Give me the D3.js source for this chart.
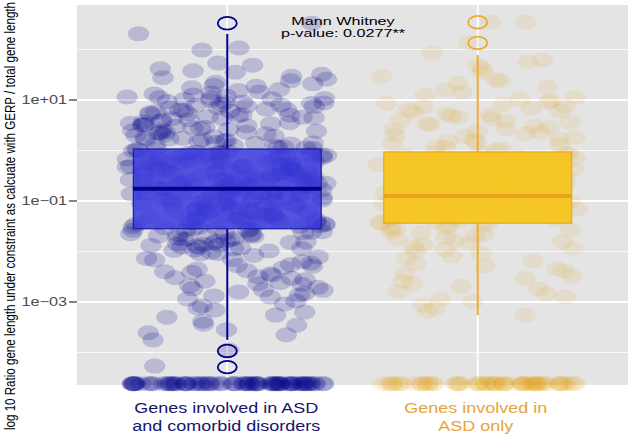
<!DOCTYPE html>
<html><head><meta charset="utf-8">
<script src="https://cdn.jsdelivr.net/npm/d3@7"></script>
<style>body{margin:0;background:#fff}svg{display:block}</style>
</head><body><svg id="c" width="631" height="439"></svg>
<script>
// ---------- DATA ----------
const categories = ["comorbid", "asdOnly"];
const categoryLines = [["Genes involved in ASD", "and comorbid disorders"], ["Genes involved in", "ASD only"]];
const yTickValues = [1e1, 1e-1, 1e-3];
const yTickLabels = ["1e+01", "1e\u221201", "1e\u221203"];
const yMinorValues = [1e2, 1e0, 1e-2, 1e-4];
const annotationLines = ["Mann Whitney", "p-value: 0.0277**"];

// log10 ratio values read from the jittered points
const comorbidLog = [
  2.52,2.31,2.03,1.99,
  1.73,1.69,1.62,1.58,1.55,1.51,1.47,1.44,1.41,1.38,1.35,1.32,1.29,1.27,1.24,1.21,1.19,1.16,1.14,1.12,1.10,1.08,1.06,1.05,1.04,1.03,1.02,1.01,
  0.99,0.97,0.96,0.94,0.93,0.91,0.90,0.88,0.87,0.85,0.84,0.82,0.81,0.79,0.78,0.76,0.75,0.73,0.72,0.70,0.69,0.67,0.66,0.64,0.63,0.61,0.60,0.58,0.57,0.55,0.54,0.52,0.51,0.49,0.48,0.46,0.45,0.43,0.42,0.40,0.39,0.37,0.36,0.34,0.33,0.31,0.30,0.28,0.27,0.25,0.24,0.22,0.21,0.19,0.18,0.16,0.15,0.13,0.12,0.10,0.09,0.07,0.06,0.04,0.03,0.01,0.95,0.80,0.65,0.50,0.35,0.20,0.05,0.89,0.71,0.53,0.38,0.23,0.14,0.02,
  -0.01,-0.02,-0.04,-0.05,-0.07,-0.08,-0.10,-0.11,-0.13,-0.14,-0.16,-0.17,-0.19,-0.20,-0.22,-0.23,-0.25,-0.26,-0.28,-0.29,-0.31,-0.32,-0.34,-0.35,-0.37,-0.38,-0.40,-0.41,-0.43,-0.44,-0.46,-0.47,-0.49,-0.50,-0.52,-0.53,-0.55,-0.56,-0.58,-0.59,-0.61,-0.62,-0.64,-0.65,-0.67,-0.68,-0.70,-0.71,-0.73,-0.74,-0.76,-0.77,-0.79,-0.80,-0.82,-0.83,-0.85,-0.86,-0.88,-0.89,-0.91,-0.92,-0.94,-0.95,-0.97,-0.98,
  -0.03,-0.09,-0.15,-0.21,-0.27,-0.33,-0.39,-0.45,-0.51,-0.57,-0.63,-0.69,-0.75,-0.81,-0.87,-0.93,-0.99,
  -0.06,-0.12,-0.18,-0.24,-0.30,-0.36,-0.42,-0.48,-0.54,-0.60,-0.66,-0.72,-0.78,-0.84,-0.90,-0.96,
  -0.35,-0.55,-0.75,-0.45,-0.65,-0.25,-0.85,-0.15,-0.50,-0.70,-0.60,
  -1.01,-1.02,-1.04,-1.05,-1.07,-1.08,-1.10,-1.11,-1.13,-1.14,-1.16,-1.17,-1.19,-1.20,-1.22,-1.23,-1.25,-1.26,-1.28,-1.29,-1.31,-1.32,-1.34,-1.35,-1.37,-1.38,-1.40,-1.41,-1.43,-1.44,-1.46,-1.47,-1.49,-1.50,-1.52,-1.53,-1.55,-1.56,-1.58,-1.59,-1.61,-1.62,-1.64,-1.65,-1.67,-1.68,-1.70,-1.71,-1.73,-1.74,-1.76,-1.77,-1.79,-1.80,-1.82,-1.83,-1.85,-1.86,-1.88,-1.89,-1.91,-1.92,-1.94,-1.95,-1.97,-1.98,
  -1.03,-1.09,-1.15,-1.21,-1.27,-1.33,-1.39,-1.45,-1.51,-1.57,-1.63,-1.69,-1.75,-1.81,-1.87,-1.93,-1.99,
  -1.06,-1.18,-1.30,-1.42,-1.54,-1.66,
  -2.02,-2.05,-2.08,-2.11,-2.14,-2.17,-2.20,-2.23,-2.26,-2.29,-2.32,-2.35,-2.38,-2.41,-2.44,-2.47,-2.50,-2.53,-2.56,-2.59,-2.62,-2.65,-2.68,-2.71,-2.74,-2.77,-2.80,-2.83,-2.86,-2.90,-2.94,-2.98,
  -2.04,-2.16,-2.28,-2.40,-2.52,-2.64,-2.76,-2.88,
  -3.04,-3.08,-3.12,-3.16,-3.20,-3.26,-3.30,-3.38,-3.44,-3.46,-3.55,-3.61,-3.65,-3.75,-3.95,-4.27
];
const comorbidZeroCount = 75;

const asdOnlyLog = [
  2.55,2.54,2.13,
  1.93,1.79,1.75,1.68,1.62,1.55,1.47,1.40,1.38,1.33,1.25,1.20,1.15,1.10,1.05,1.02,
  0.98,0.96,0.93,0.91,0.88,0.86,0.83,0.81,0.78,0.76,0.73,0.71,0.68,0.66,0.63,0.61,0.58,0.56,0.53,0.51,0.48,0.46,0.43,0.41,0.38,0.36,0.33,0.31,0.28,0.26,0.23,0.21,0.18,0.16,0.13,0.11,0.08,0.06,0.03,0.01,
  -0.02,-0.04,-0.06,-0.08,-0.10,-0.12,-0.14,-0.16,-0.18,-0.20,-0.22,-0.24,-0.26,-0.28,-0.30,-0.32,-0.34,-0.36,-0.38,-0.40,-0.42,-0.44,-0.46,-0.48,-0.50,-0.52,-0.54,-0.56,-0.58,-0.60,-0.62,-0.64,-0.66,-0.68,-0.70,-0.72,-0.74,-0.76,-0.78,-0.80,-0.82,-0.84,-0.86,-0.88,-0.90,-0.92,-0.94,-0.96,-0.98,-0.35,-0.55,-0.75,-0.65,-0.85,-0.45,
  -1.02,-1.04,-1.06,-1.08,-1.10,-1.12,-1.14,-1.16,-1.18,-1.20,-1.22,-1.24,-1.26,-1.28,-1.30,-1.32,-1.34,-1.36,-1.38,-1.40,-1.42,-1.44,-1.46,-1.48,-1.50,-1.52,-1.54,-1.56,-1.58,-1.60,-1.63,-1.66,-1.69,-1.72,-1.75,-1.78,-1.81,-1.84,-1.87,-1.90,-1.93,-1.96,-1.99,-1.15,-1.35,
  -2.04,-2.09,-2.14,-2.19,-2.24,-2.29,-2.34,-2.39,-2.44,-2.49,-2.54,-2.59,-2.64,-2.69,-2.74,-2.79,-2.84,-2.89,-2.94,-2.99,
  -3.06,-3.12,-3.18,-3.26
];
const asdOnlyZeroCount = 65;

// zero ratios are shown at the floor of the axis
const zeroFloorLog = -4.62;

// box statistics (log10), one entry per category
const boxQ1 = [-1.55, -1.44];
const boxMedian = [-0.76, -0.90];
const boxQ3 = [0.03, -0.03];
const whiskerLow = [-3.75, -3.26];
const whiskerHigh = [2.31, 1.89];
const outliers = [[2.52, -3.97, -4.29], [2.54, 2.13]];

// ---------- DRAW ----------
const panel = {l: 77, r: 628, t: 5, b: 385};
const svg = d3.select("#c");
const FONT = "'Liberation Sans', Arial, sans-serif";

const y = d3.scaleLog().domain([Math.pow(10, -4.644), Math.pow(10, 2.881)]).range([panel.b, panel.t]);
const x = d3.scalePoint().domain(categories).range([panel.l, panel.r]).padding(0.6);
const step = x.step();
const yl = v => y(Math.pow(10, v));

const style = [
  {pt: "#00008b", ptOp: 0.19, box: "#3a3ade", boxOp: 0.85, boxStroke: "#1c1ca8", med: "#00008b", wh: "#00008b", label: "#16166e"},
  {pt: "#e69f00", ptOp: 0.10, box: "#f6c51f", boxOp: 0.96, boxStroke: "#e9a626", med: "#eba21f", wh: "#ecaa35", label: "#e8a43a"}
];

// panel
svg.append("rect").attr("x", panel.l).attr("y", panel.t).attr("width", panel.r - panel.l).attr("height", panel.b - panel.t).attr("fill", "#e4e4e4");
// grid
svg.selectAll(".gmin").data(yMinorValues).join("line")
  .attr("x1", panel.l).attr("x2", panel.r).attr("y1", d => y(d)).attr("y2", d => y(d))
  .attr("stroke", "#fff").attr("stroke-width", 0.8);
svg.selectAll(".gmaj").data(yTickValues).join("line")
  .attr("x1", panel.l).attr("x2", panel.r).attr("y1", d => y(d)).attr("y2", d => y(d))
  .attr("stroke", "#fff").attr("stroke-width", 1.8);
svg.selectAll(".gx").data(categories).join("line")
  .attr("x1", d => x(d)).attr("x2", d => x(d)).attr("y1", panel.t).attr("y2", panel.b)
  .attr("stroke", "#fff").attr("stroke-width", 1.8);

function jit(i, g) {
  const s = Math.sin((i + 1) * 12.9898 + g * 78.233) * 43758.5453;
  return (s - Math.floor(s)) * 2 - 1;
}

const groups = [
  {vals: comorbidLog, zeros: comorbidZeroCount},
  {vals: asdOnlyLog, zeros: asdOnlyZeroCount}
];
groups.forEach((g, gi) => {
  const pts = g.vals.map(v => v).concat(d3.range(g.zeros).map(() => zeroFloorLog));
  const cx = x(categories[gi]);
  svg.append("g").selectAll("ellipse").data(pts).join("ellipse")
    .attr("cx", (d, i) => cx + jit(i, gi) * 0.4 * step)
    .attr("cy", d => yl(d))
    .attr("rx", 10.8).attr("ry", 7.5)
    .attr("fill", style[gi].pt).attr("fill-opacity", style[gi].ptOp);
});

// boxes
categories.forEach((c, i) => {
  const s = style[i];
  const cx = x(c), bw = 0.75 * step;
  const g = svg.append("g");
  g.append("line").attr("x1", cx).attr("x2", cx).attr("y1", yl(boxQ3[i])).attr("y2", yl(whiskerHigh[i]))
    .attr("stroke", s.wh).attr("stroke-width", 2);
  g.append("line").attr("x1", cx).attr("x2", cx).attr("y1", yl(boxQ1[i])).attr("y2", yl(whiskerLow[i]))
    .attr("stroke", s.wh).attr("stroke-width", 2);
  g.append("rect").attr("x", cx - bw / 2).attr("width", bw)
    .attr("y", yl(boxQ3[i])).attr("height", yl(boxQ1[i]) - yl(boxQ3[i]))
    .attr("fill", s.box).attr("fill-opacity", s.boxOp).attr("stroke", s.boxStroke).attr("stroke-width", 1.2);
  g.append("line").attr("x1", cx - bw / 2).attr("x2", cx + bw / 2).attr("y1", yl(boxMedian[i])).attr("y2", yl(boxMedian[i]))
    .attr("stroke", s.med).attr("stroke-width", 4);
  g.selectAll(".o").data(outliers[i]).join("ellipse")
    .attr("cx", cx).attr("cy", d => yl(d)).attr("rx", 9.5).attr("ry", 6.3)
    .attr("fill", "none").attr("stroke", s.wh).attr("stroke-width", 1.8);
});

// y axis ticks & labels
svg.selectAll(".tk").data(yTickValues).join("line")
  .attr("x1", 69).attr("x2", panel.l).attr("y1", d => y(d)).attr("y2", d => y(d))
  .attr("stroke", "#333").attr("stroke-width", 1.2);
svg.selectAll(".tl").data(yTickValues).join("text")
  .attr("transform", d => `translate(67,${y(d) + 4.5}) scale(1.3,1)`)
  .attr("text-anchor", "end").attr("font-family", FONT).attr("font-size", 12.5)
  .attr("fill", "#4d4d4d").text((d, i) => yTickLabels[i]);

// y title
svg.append("text")
  .attr("transform", `translate(15,216) scale(1.4,1) rotate(-90)`)
  .attr("text-anchor", "middle").attr("font-family", FONT).attr("font-size", 11)
  .attr("textLength", 428).attr("lengthAdjust", "spacingAndGlyphs")
  .attr("fill", "#000").text("log 10 Ratio gene length under constraint as calcuate with GERP / total gene length");

// x labels
categories.forEach((c, i) => {
  categoryLines[i].forEach((ln, j) => {
    svg.append("text")
      .attr("transform", `translate(${x(c) - (i === 1 ? 2 : 1)},${413 + j * 17.8}) scale(1.2,1)`)
      .attr("text-anchor", "middle").attr("font-family", FONT)
      .attr("font-size", 15).attr("fill", style[i].label).text(ln);
  });
});

// annotation
annotationLines.forEach((ln, j) => {
  svg.append("text").attr("transform", `translate(343,${24.5 + j * 12.5}) scale(1.5,1)`)
    .attr("text-anchor", "middle").attr("font-family", FONT).attr("font-size", 10.8)
    .attr("fill", "#000").text(ln);
});
</script></body></html>
